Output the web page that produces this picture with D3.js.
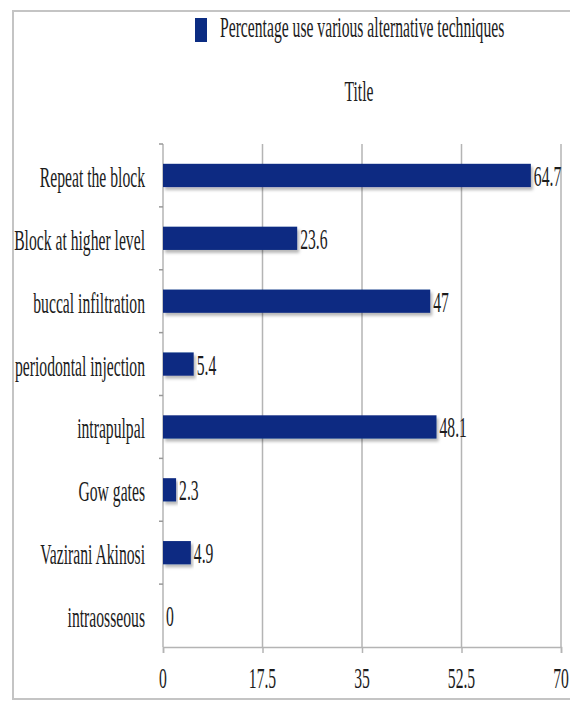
<!DOCTYPE html>
<html>
<head>
<meta charset="utf-8">
<script src="https://cdn.jsdelivr.net/npm/d3@7"></script>
<style>
  html, body { margin: 0; padding: 0; background: #fff; }
  svg { display: block; }
</style>
</head>
<body>
<svg id="chart" width="570" height="702"></svg>
<script>
// Alternative techniques and the share of respondents using each (%)
const categories = [
  "Repeat the block",
  "Block at higher level",
  "buccal infiltration",
  "periodontal injection",
  "intrapulpal",
  "Gow gates",
  "Vazirani Akinosi",
  "intraosseous"
];
const values = [64.7, 23.6, 47, 5.4, 48.1, 2.3, 4.9, 0];
const xTicks = [0, 17.5, 35, 52.5, 70];
const tickLabels = ["0", "17.5", "35", "52.5", "70"];
const seriesName = "Percentage use various alternative techniques";
const chartTitle = "Title";

const svg = d3.select("#chart");
const W = 570, H = 702;
const margin = { top: 144, right: 9, bottom: 55, left: 163 };
const plotW = W - margin.left - margin.right;
const plotH = H - margin.top - margin.bottom;
const barColor = "#0b2c82";
const gridColor = "#b4b4b4";
const FONT = "'Liberation Serif', 'Times New Roman', serif";
const FS = 29;        // font size
const SX = 0.54;      // narrow serif look

// condensed text helper
function label(sel, x, y, str, anchor) {
  return sel.append("text")
    .attr("transform", `translate(${x},${y}) scale(${SX},1)`)
    .attr("text-anchor", anchor || "start")
    .attr("font-family", FONT)
    .attr("font-size", FS)
    .attr("fill", "#1c1c1c")
    .text(str);
}

// drop shadow under the bars
const defs = svg.append("defs");
const f = defs.append("filter").attr("id", "shadow")
  .attr("x", "-5%").attr("y", "-30%").attr("width", "115%").attr("height", "180%");
f.append("feDropShadow").attr("dx", 2).attr("dy", 3).attr("stdDeviation", 1.6)
  .attr("flood-color", "#000").attr("flood-opacity", 0.28);

// outer frame
svg.append("path")
  .attr("d", `M${W},11 H13 V699 H${W}`)
  .attr("fill", "none").attr("stroke", "#c4c4c4").attr("stroke-width", 2);

const x = d3.scaleLinear().domain([0, 70]).range([0, plotW]);
const y = d3.scaleBand().domain(categories).range([0, plotH]).paddingInner(0.63).paddingOuter(0.315);
const yEdge = d3.scaleLinear().domain([0, categories.length]).range([0, plotH]);

const g = svg.append("g").attr("transform", `translate(${margin.left},${margin.top})`);

// vertical gridlines
g.selectAll("line.grid").data(xTicks.slice(1)).join("line")
  .attr("class", "grid")
  .attr("x1", d => x(d)).attr("x2", d => x(d))
  .attr("y1", 0).attr("y2", plotH)
  .attr("stroke", gridColor).attr("stroke-width", 1.5);

// x axis
const xAxis = g.append("g").attr("transform", `translate(0,${plotH})`)
  .call(d3.axisBottom(x).tickValues(xTicks).tickSize(6).tickFormat(() => ""));
xAxis.select(".domain").attr("stroke", gridColor).attr("stroke-width", 1.5);
xAxis.selectAll(".tick line").attr("stroke", gridColor).attr("stroke-width", 1.5);
xTicks.forEach((t, i) => label(g, x(t), plotH + 41, tickLabels[i], "middle"));

// y axis with ticks between categories
g.append("line").attr("x1", 0).attr("x2", 0).attr("y1", 0).attr("y2", plotH)
  .attr("stroke", gridColor).attr("stroke-width", 1.5);
g.selectAll("line.ytick").data(d3.range(categories.length)).join("line")
  .attr("class", "ytick")
  .attr("x1", -4).attr("x2", 0)
  .attr("y1", d => yEdge(d)).attr("y2", d => yEdge(d))
  .attr("stroke", "#999").attr("stroke-width", 1.5);

// bars
g.selectAll("rect.bar").data(values).join("rect")
  .attr("class", "bar")
  .attr("x", 0)
  .attr("y", (d, i) => y(categories[i]))
  .attr("width", d => x(d))
  .attr("height", y.bandwidth())
  .attr("fill", barColor)
  .attr("filter", "url(#shadow)");

// value labels
values.forEach((v, i) => {
  label(g, x(v) + 3, y(categories[i]) + y.bandwidth() / 2 + 10.5, String(v), "start");
});

// category labels
categories.forEach(c => {
  label(g, -18, y(c) + y.bandwidth() / 2 + 11.5, c, "end");
});

// legend
svg.append("rect").attr("x", 195).attr("y", 18).attr("width", 12).attr("height", 24).attr("fill", barColor);
label(svg, 220, 37, seriesName, "start");

// title
label(svg, margin.left + plotW / 2 - 3, 101, chartTitle, "middle");
</script>
</body>
</html>
